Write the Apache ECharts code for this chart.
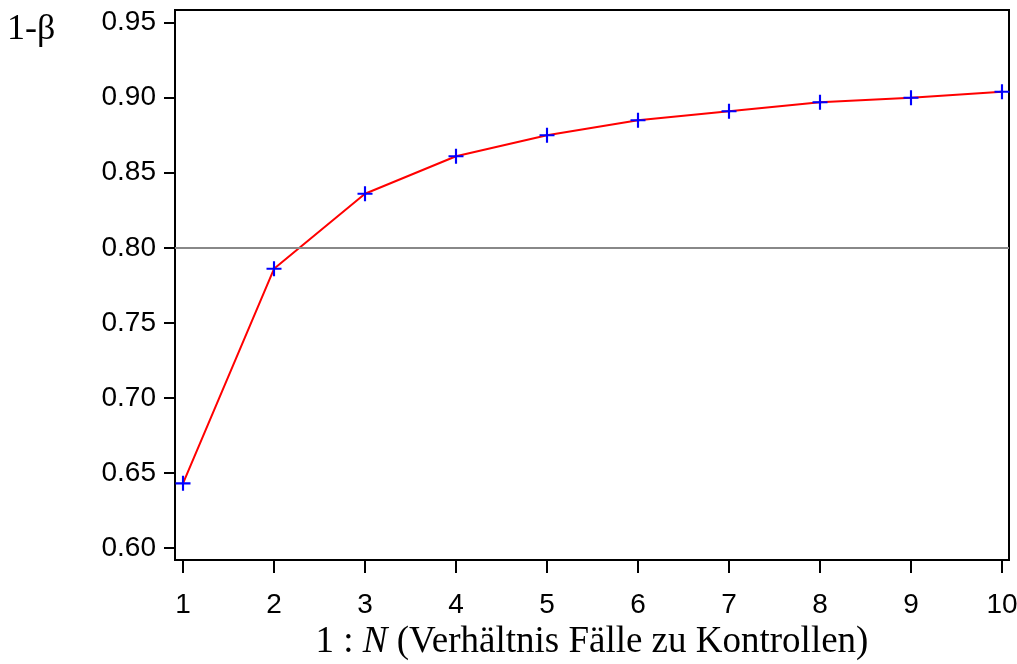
<!DOCTYPE html>
<html>
<head>
<meta charset="utf-8">
<script src="https://cdn.jsdelivr.net/npm/echarts@6/dist/echarts.min.js"></script>
<style>
html,body{margin:0;padding:0;background:#fff;}
#main{width:1017px;height:664px;}
</style>
</head>
<body>
<div id="main"></div>
<script>
// Verhältnis 1:N und Power (1-beta)
const ratioN = [1, 2, 3, 4, 5, 6, 7, 8, 9, 10];
const power = [0.643, 0.786, 0.836, 0.861, 0.875, 0.885, 0.891, 0.897, 0.900, 0.904];
const xTicks = [1, 2, 3, 4, 5, 6, 7, 8, 9, 10];
const yTicks = [0.60, 0.65, 0.70, 0.75, 0.80, 0.85, 0.90, 0.95];
const refLine = 0.80;

const chart = echarts.init(document.getElementById('main'));
const plus = 'path://M0,6H14V8H0Z M6,0H8V14H6Z';

chart.setOption({
    animation: false,
    grid: {
        left: 175, right: 8, top: 10, bottom: 104,
        outerBoundsMode: 'none',
        containLabel: false,
        show: true, borderColor: '#000', borderWidth: 2
    },
    xAxis: {
        type: 'value',
        min: 0.912, max: 10.077,
        axisLine: { lineStyle: { color: '#000', width: 2 } },
        axisTick: { customValues: xTicks, length: 13, lineStyle: { color: '#000', width: 2 } },
        axisLabel: {
            customValues: xTicks, margin: 31,
            color: '#000', fontSize: 28, fontFamily: 'Liberation Sans'
        },
        splitLine: { show: false },
        name: '1 : {i|N} (Verhältnis Fälle zu Kontrollen)',
        nameLocation: 'middle',
        nameGap: 62,
        nameTextStyle: {
            color: '#000', fontSize: 37, fontFamily: 'Liberation Serif',
            rich: { i: { fontStyle: 'italic', fontSize: 37, fontFamily: 'Liberation Serif', color: '#000' } }
        }
    },
    yAxis: {
        type: 'value',
        min: 0.5919, max: 0.9585,
        axisLine: { show: true, lineStyle: { color: '#000', width: 2 } },
        axisTick: { show: true, customValues: yTicks, length: 11, lineStyle: { color: '#000', width: 2 } },
        axisLabel: {
            customValues: yTicks, margin: 19,
            color: '#000', fontSize: 28, fontFamily: 'Liberation Sans',
            formatter: v => v.toFixed(2)
        },
        splitLine: { show: false }
    },
    graphic: [{
        type: 'text', left: 7, top: 12,
        style: { text: '1-β', fill: '#000', font: '36px "Liberation Serif"' }
    }],
    series: [{
        type: 'line',
        data: ratioN.map((n, i) => [n, power[i]]),
        symbol: plus,
        symbolSize: 15,
        showAllSymbol: true,
        lineStyle: { color: '#ff0000', width: 2 },
        itemStyle: { color: '#0000ff' },
        markLine: {
            silent: true,
            symbol: 'none',
            label: { show: false },
            lineStyle: { color: '#888', width: 2, type: 'solid' },
            data: [{ yAxis: refLine }]
        }
    }]
});
</script>
</body>
</html>
